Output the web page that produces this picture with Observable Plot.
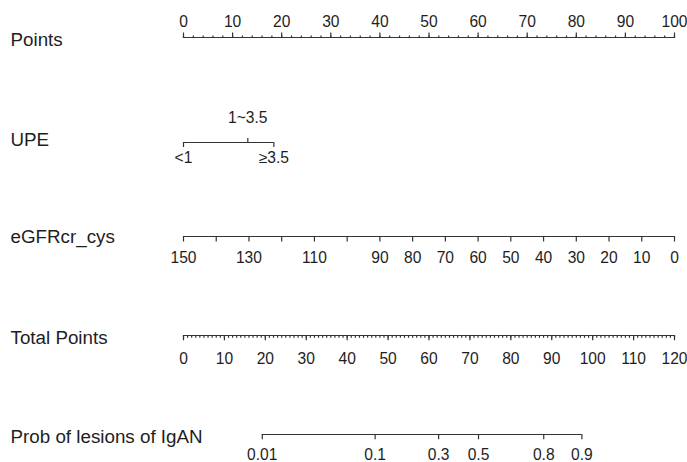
<!DOCTYPE html>
<html>
<head>
<meta charset="utf-8">
<script src="https://cdn.jsdelivr.net/npm/d3@7"></script>
<script src="https://cdn.jsdelivr.net/npm/@observablehq/plot@0.6"></script>
<style>
  html, body { margin: 0; padding: 0; background: #fff; }
  #chart { width: 687px; height: 462px; overflow: hidden; }
  #chart svg { display: block; }
</style>
</head>
<body>
<div id="chart"></div>
<script>
// ---------------- data ----------------
const rowLabels = ["Points", "UPE", "eGFRcr_cys", "Total Points", "Prob of lesions of IgAN"];

const pointsLabels = [0, 10, 20, 30, 40, 50, 60, 70, 80, 90, 100];
const pointsMinor = d3.range(0, 101, 2);

const upeLevels = ["<1", "1~3.5", "≥3.5"];
const upePoints = [0, 13.1, 18.4];           // points given to each UPE level

const egfrTicks  = [150, 140, 130, 120, 110, 100, 90, 80, 70, 60, 50, 40, 30, 20, 10, 0];
const egfrLabels = [150, 130, 110, 90, 80, 70, 60, 50, 40, 30, 20, 10, 0];

const totalLabels = [0, 10, 20, 30, 40, 50, 60, 70, 80, 90, 100, 110, 120];
const totalMinor = d3.range(0, 121, 1);

const probLabels = [0.01, 0.1, 0.3, 0.5, 0.8, 0.9];
const probIntercept = 72.1;   // total points where p = 0.5
const probSlope = 11.5;       // total points per unit of logit(p)

// ---------------- layout / style ----------------
const W = 687, X0 = 183, X1 = 674;
const FONT = "'Liberation Sans', Arial, Helvetica, sans-serif";
const INK = "#1e1e1e", LINE = "#333";
const TICK_FS = 15.6, LABEL_FS = 18.8, SW = 1.2;

function row(label, {height, lineY, labelDy, x, marks}) {
  return Plot.plot({
    width: W, height,
    marginTop: lineY, marginBottom: height - lineY, marginLeft: 0, marginRight: 0,
    x: {...x, range: [X0, X1], label: null},
    y: {domain: [0, 1], range: [lineY, lineY], axis: null},
    style: {fontFamily: FONT, color: INK, background: "white", overflow: "visible"},
    marks: [
      Plot.text([label], {frameAnchor: "left", textAnchor: "start", dx: 10, dy: labelDy,
                          fontSize: LABEL_FS, fill: INK}),
      ...marks
    ]
  });
}
const baseLine = (lo, hi) =>
  Plot.ruleY([{lo, hi}], {y: () => 0, x1: "lo", x2: "hi", stroke: LINE, strokeWidth: SW});
const ticksOnly = (vals, anchor, size) =>
  Plot.axisX(vals, {anchor, tickSize: size, tickFormat: () => "", stroke: LINE,
                    strokeWidth: SW, label: null});
const labelsOnly = (vals, anchor, offset, fmt = d => String(d)) =>
  Plot.axisX(vals, {anchor, tickSize: 0, tickPadding: offset, tickFormat: fmt,
                    fontSize: TICK_FS, fill: INK, label: null});

const upeLabelOf = new Map(upePoints.map((p, i) => [p, upeLevels[i]]));
const logit = p => Math.log(p / (1 - p));

const chart = document.getElementById("chart");

// Points
chart.append(row(rowLabels[0], {
  height: 90, lineY: 37, labelDy: 2.5,
  x: {domain: [0, 100]},
  marks: [
    baseLine(pointsLabels[0], pointsLabels[pointsLabels.length - 1]),
    ticksOnly(pointsMinor, "top", 2.5),
    ticksOnly(pointsLabels, "top", 5.5),
    labelsOnly(pointsLabels, "top", 10.5)
  ]
}));

// UPE
chart.append(row(rowLabels[1], {
  height: 100, lineY: 52, labelDy: -2.5,
  x: {domain: [0, 100]},
  marks: [
    baseLine(upePoints[0], upePoints[upePoints.length - 1]),
    ticksOnly([upePoints[1]], "top", 5),
    ticksOnly([upePoints[0], upePoints[2]], "bottom", 5),
    labelsOnly([upePoints[1]], "top", 19.5, d => upeLabelOf.get(d)),
    labelsOnly([upePoints[0], upePoints[2]], "bottom", 9, d => upeLabelOf.get(d))
  ]
}));

// eGFRcr_cys
chart.append(row(rowLabels[2], {
  height: 95, lineY: 46, labelDy: 0,
  x: {domain: [150, 0]},
  marks: [
    baseLine(egfrTicks[0], egfrTicks[egfrTicks.length - 1]),
    ticksOnly(egfrTicks, "bottom", 5.5),
    labelsOnly(egfrLabels, "bottom", 15.5)
  ]
}));

// Total Points
chart.append(row(rowLabels[3], {
  height: 100, lineY: 50, labelDy: 2.5,
  x: {domain: [0, 120]},
  marks: [
    baseLine(totalLabels[0], totalLabels[totalLabels.length - 1]),
    ticksOnly(totalMinor, "bottom", 2.8),
    ticksOnly(totalLabels, "bottom", 5.3),
    labelsOnly(totalLabels, "bottom", 17)
  ]
}));

// Probability
chart.append(row(rowLabels[4], {
  height: 77, lineY: 49, labelDy: 2.5,
  x: {domain: [0, 120], transform: p => probIntercept + probSlope * logit(p)},
  marks: [
    baseLine(probLabels[0], probLabels[probLabels.length - 1]),
    ticksOnly(probLabels, "bottom", 5.3),
    labelsOnly(probLabels, "bottom", 14.5)
  ]
}));
</script>
</body>
</html>
